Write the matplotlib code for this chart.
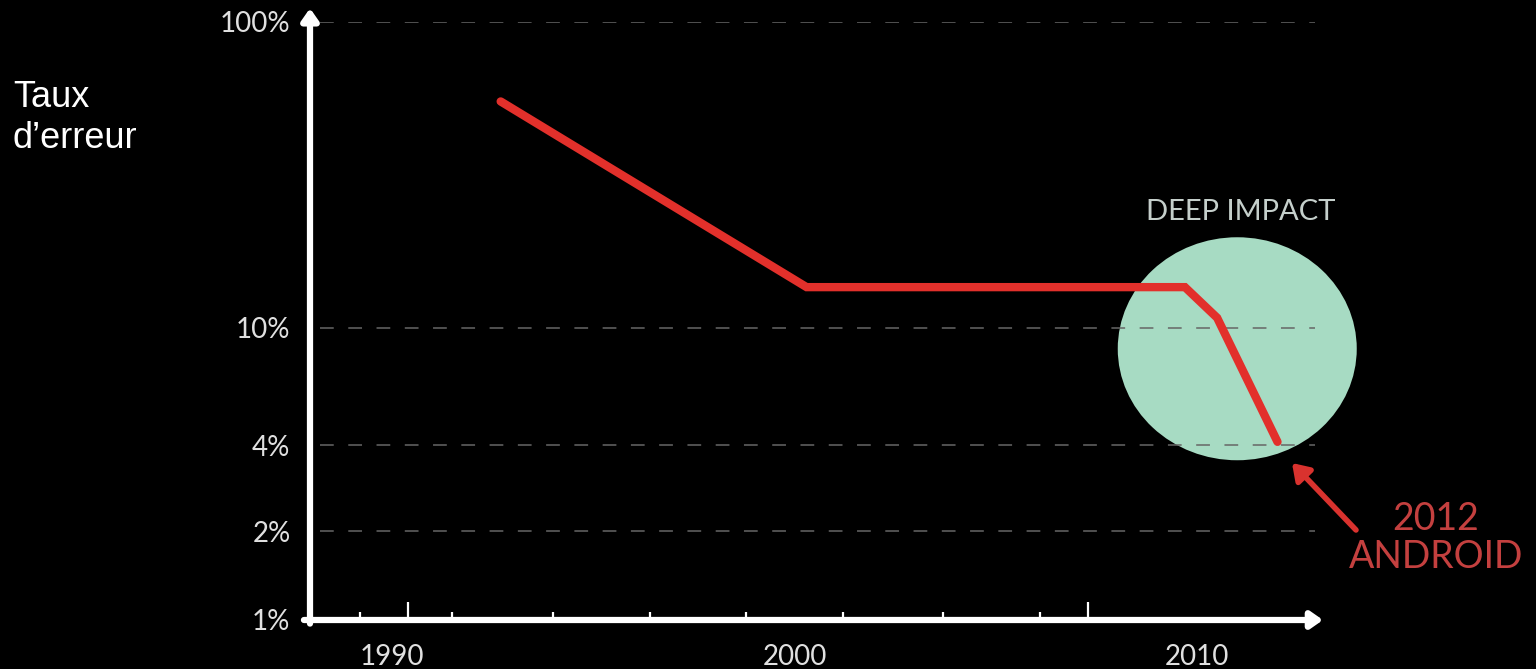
import numpy as np
import matplotlib.pyplot as plt
from matplotlib.patches import Ellipse
from matplotlib.transforms import ScaledTranslation

# error rate (%) per year
years = [1992.7, 2000.3, 2009.7, 2010.5, 2012.0]
error_rate = [55, 13.6, 13.6, 10.8, 4.1]

y_ticks = [1, 2, 4, 10, 100]
y_tick_labels = ['1%', '2%', '4%', '10%', '100%']
grid_levels = [2, 4, 10, 100]
x_ticks = [1990, 2000, 2010]
small_ticks = [1989.2, 1991.5, 1994.0, 1996.4, 1998.8, 2001.2, 2003.7, 2006.1]
tall_ticks = [1990.4, 2007.3]

# the slide's y axis is only roughly logarithmic, so map the tick levels
# onto the spacing used in the picture
axis_logs = np.log10(y_ticks)
axis_pos = np.array([0, 89, 175, 292, 598])


def fwd(v):
    v = np.clip(np.asarray(v, dtype=float), 1e-3, None)
    return np.interp(np.log10(v), axis_logs, axis_pos)


def inv(p):
    return 10 ** np.interp(p, axis_pos, axis_logs)


font = 'Lato'
red = '#e2302b'
H = 669

fig = plt.figure(figsize=(15.36, 6.69), dpi=100, facecolor='black')
ax = fig.add_axes([310 / 1536, 49 / H, 1013 / 1536, 598 / H])
ax.set_facecolor('black')
ax.set_yscale('function', functions=(fwd, inv))
ax.set_xlim(1990 - 82 / 40.25, 1990 + 931 / 40.25)
ax.set_ylim(1, 100)

for s in ax.spines.values():
    s.set_visible(False)

# "deep impact" disc
trans = fig.dpi_scale_trans + ScaledTranslation(2011.0, 8.5, ax.transData)
ax.add_patch(Ellipse((0, 0), 2.39, 2.23, transform=trans, clip_on=False,
                     facecolor='#a7dbc3', edgecolor='none', zorder=1))

for lvl in grid_levels:
    ax.axhline(lvl, xmin=0.01, xmax=0.992, color='#666666', lw=1.1,
               dashes=(9, 9.5), zorder=2)

ax.plot(years, error_rate, color=red, lw=6, solid_capstyle='round',
        solid_joinstyle='miter', zorder=3)

# axes drawn as arrows
arrow = dict(arrowstyle='-|>,head_length=0.5,head_width=0.35', lw=4.5,
             color='white', shrinkA=0, shrinkB=0, mutation_scale=14)
ax.annotate('', xy=(1, 0), xytext=(-0.006, 0), xycoords='axes fraction',
            arrowprops=arrow, annotation_clip=False, zorder=4)
ax.annotate('', xy=(0, 1.023), xytext=(0, -0.006), xycoords='axes fraction',
            arrowprops=arrow, annotation_clip=False, zorder=4)

xt = ax.get_xaxis_transform()
ax.vlines(small_ticks, 0, 0.014, transform=xt, color='white', lw=1.6, zorder=4)
ax.vlines(tall_ticks, 0, 0.03, transform=xt, color='white', lw=1.6, zorder=4)

ax.set_yticks(y_ticks)
ax.set_yticklabels(y_tick_labels)
ax.yaxis.set_minor_locator(plt.NullLocator())
ax.set_xticks(x_ticks)
ax.set_xticklabels([str(x) for x in x_ticks])
ax.tick_params(axis='y', length=0, pad=14, labelcolor='#e0e0e0', labelsize=20)
ax.tick_params(axis='x', length=0, pad=17, labelcolor='#e0e0e0', labelsize=20)
for lab in ax.get_xticklabels() + ax.get_yticklabels():
    lab.set_family(font)

fig.text(13 / 1536, 1 - 80 / H, 'Taux\nd\u2019erreur', color='white',
         family='Liberation Sans', fontsize=26, ha='left', va='top',
         linespacing=1.21)

fig.text(1241 / 1536, 1 - 212 / H, 'DEEP IMPACT', color='#c5cfcb',
         family=font, fontsize=21, ha='center', va='center')

ax.annotate('', xy=(1292, H - 463), xytext=(1356, H - 530),
            xycoords='figure pixels', textcoords='figure pixels',
            arrowprops=dict(arrowstyle='-|>,head_length=0.6,head_width=0.4',
                            lw=4, color='#d9322e', shrinkA=0, shrinkB=0,
                            mutation_scale=16),
            annotation_clip=False)
fig.text(1436 / 1536, 1 - 538 / H, '2012\nANDROID', color='#c4403f',
         family=font, fontsize=27, ha='center', va='center', linespacing=1.05)

fig.savefig('out.png', dpi=100, facecolor='black')
